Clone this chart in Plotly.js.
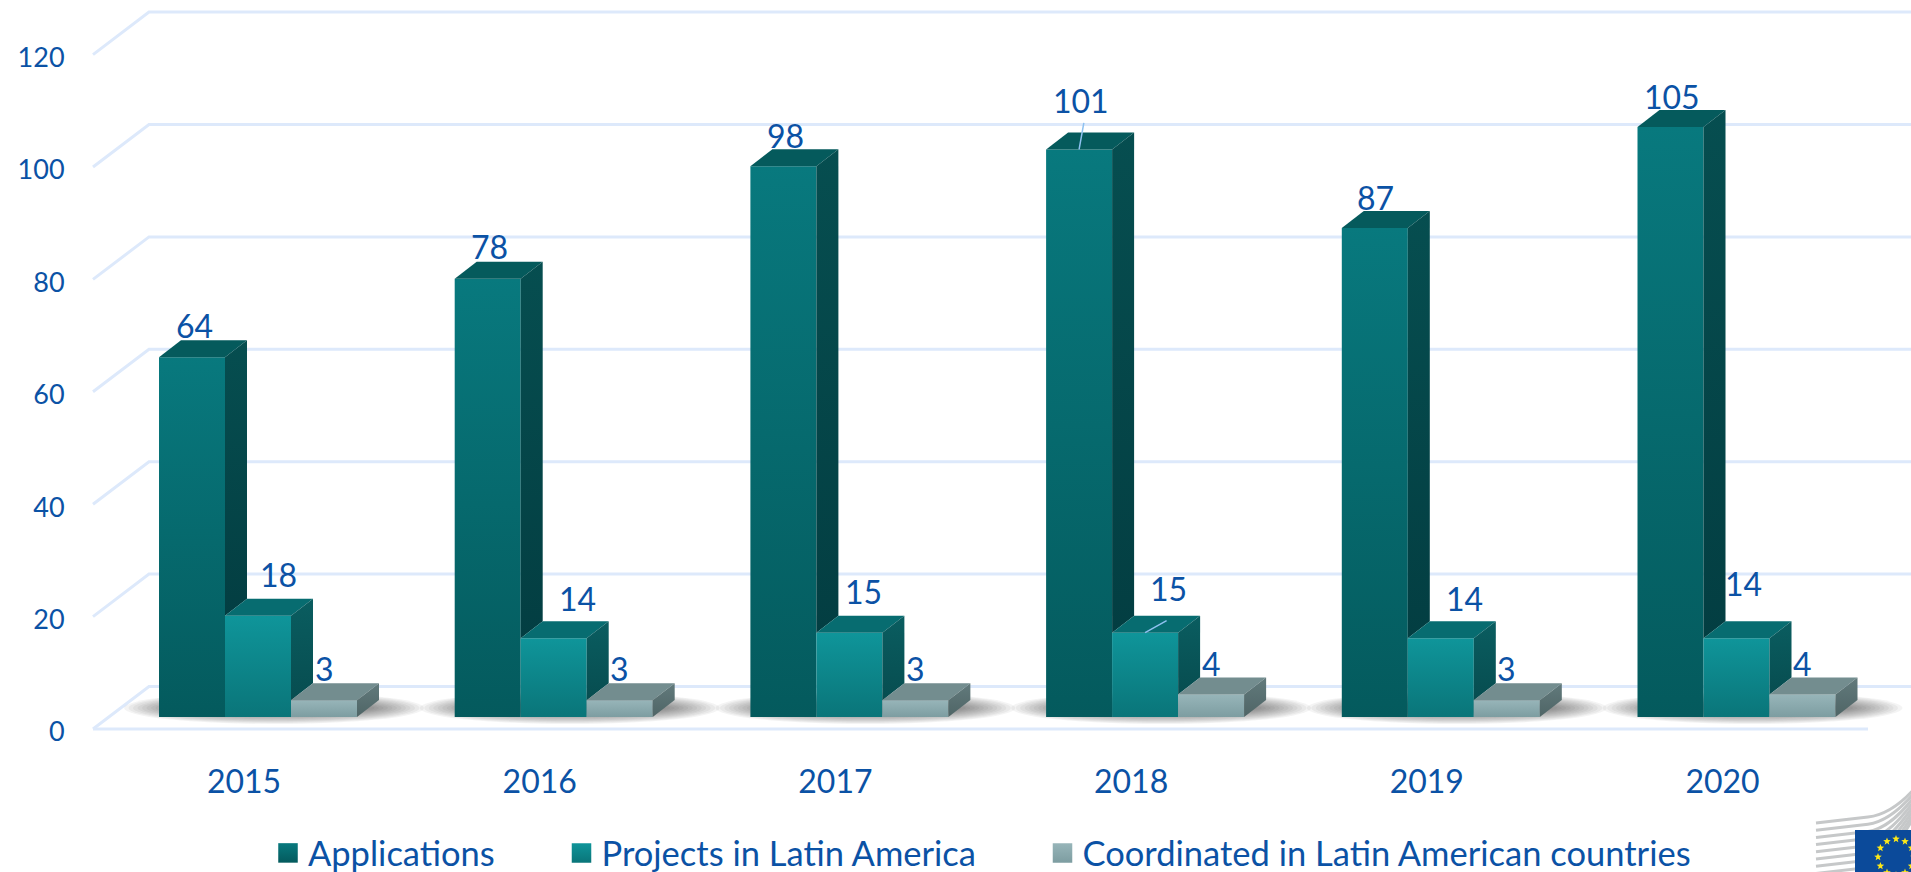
<!DOCTYPE html>
<html>
<head>
<meta charset="utf-8">
<script src="https://cdn.plot.ly/plotly-3.0.1.min.js"></script>
<style>html,body{margin:0;padding:0;background:#fff;overflow:hidden}</style>
</head>
<body>
<div id="chart" style="width:1911px;height:872px"></div>
<script>
// ---- data ----
const years = ['2015','2016','2017','2018','2019','2020'];
const seriesNames = ['Applications','Projects in Latin America','Coordinated in Latin American countries'];
const applications = [64,78,98,101,87,105];
const projects = [18,14,15,15,14,14];
const coordinated = [3,3,3,4,3,4];
const yTicks = [0,20,40,60,80,100,120];

// ---- styles ----
const inkBlue = '#0b52a5', gridBlue = '#dde9fb', leaderBlue = '#8fc1f0';
const frontTop = ['#08797e','#0f959a','#97b5b9'];
const frontBottom = ['#045a5d','#0a7579','#7d9da1'];
const topFace = ['#055a5c','#076c70','#738d8f'];
const sideTop = ['#064e50','#0a5d60','#627a7c'];
const sideBottom = ['#033e42','#074d50','#4f6566'];
const labelFont = {family:'Lato, sans-serif', size:32, color:inkBlue};

// ---- geometry (pixels on the page, converted to axis units) ----
const W = 1911, H = 872, L = 72, axisPx = 745;
const pxX = 295.7, pxY = 5.62;         // pixels per category, pixels per value
const x0px = 258, y0px = 729;          // where category 0 / value 0 fall on the page
const ux = p => p / pxX, uy = p => p / pxY;
const xOfPx = p => (p - x0px) / pxX, yOfPx = p => (y0px - p) / pxY;
const barW = ux(66), depthX = ux(22), depthY = uy(17);
const floorY = uy(12);                 // bars stand this far behind the front axis plane
const backX = ux(56), backY = uy(42.5);
const paperX = p => (p - L) / (W - L), paperY = p => (H - p) / H;

const series = [applications, projects, coordinated];
const traces = [], shapes = [], annotations = [];

// back grid lines + walls
yTicks.forEach(v => {
  shapes.push({type:'path', layer:'below', xref:'x', yref:'y',
    path:`M${xOfPx(93)},${v} L${xOfPx(93)+backX},${v+backY} L${xOfPx(W+5)},${v+backY}`,
    line:{color:gridBlue, width:3}, fillcolor:'rgba(0,0,0,0)'});
});
shapes.push({type:'line', layer:'below', xref:'x', yref:'y',
  x0:xOfPx(93), x1:xOfPx(1868), y0:0, y1:0, line:{color:gridBlue, width:3}});

// floor shadows: soft nested ellipses under each group
years.forEach((_, i) => {
  for (let s = 0; s < 14; s++) {
    const hw = ux(150 - s * 4.5), hh = uy(16 - s * 0.9);
    shapes.push({type:'circle', layer:'below', xref:'x', yref:'y',
      x0:i + ux(16) - hw, x1:i + ux(16) + hw,
      y0:floorY + uy(9) - hh, y1:floorY + uy(9) + hh,
      fillcolor:'rgba(40,40,40,0.05)', line:{width:0}});
  }
});

// front faces: real bars standing on the floor
series.forEach((vals, k) => {
  traces.push({type:'bar', name:seriesNames[k], showlegend:false,
    x:years.map((_, i) => i + (k - 1) * barW), y:vals, base:floorY, width:barW,
    marker:{color:frontBottom[k], line:{width:0}}, hoverinfo:'skip'});
});

// top and side faces, computed from the same values
series.forEach((vals, k) => {
  vals.forEach((v, i) => {
    const xl = i + (k - 1) * barW - barW / 2, xr = xl + barW;
    const top = floorY + v;
    const next = k < 2 ? floorY + series[k + 1][i] : floorY;
    traces.push({type:'scatter', mode:'lines', showlegend:false, hoverinfo:'skip',
      x:[xl, xl + depthX, xr + depthX, xr, xl],
      y:[top, top + depthY, top + depthY, top, top],
      fill:'toself', fillcolor:topFace[k], line:{width:0}});
    traces.push({type:'scatter', mode:'lines', showlegend:false, hoverinfo:'skip',
      x:[xr, xr + depthX, xr + depthX, xr, xr],
      y:[top, top + depthY, next + depthY, next, top],
      fill:'toself', line:{width:0},
      fillgradient:{type:'vertical', colorscale:[[0, sideBottom[k]], [1, sideTop[k]]]}});
  });
});

// legend entries: one legend per entry so each can sit at its own place
const legendIds = ['legend','legend2','legend3'];
series.forEach((_, k) => {
  traces.push({type:'scatter', mode:'markers', name:seriesNames[k], x:[null], y:[null], legend:legendIds[k],
    marker:{symbol:'square', size:16, color:frontTop[k],
      gradient:{type:'vertical', color:frontBottom[k]}}});
});
const legendLeftPx = [268, 561.5, 1042.5];
const legendLayoutY = 825, legendFinalY = 853;   // laid out higher so it does not push the plot, then moved down
const legendOpts = k => ({x:paperX(legendLeftPx[k]), xanchor:'left', y:paperY(legendLayoutY), yanchor:'middle',
  font:{family:'Lato, sans-serif', size:34.5, color:inkBlue}, bgcolor:'rgba(0,0,0,0)',
  itemclick:false, itemdoubleclick:false});

// value labels: pixel offsets from the top of each bar to the label centre
const labelDX = [[2,2,2,2,1,1],[20,24,14,23,24,7],[0,0,0,0,0,0]];
const labelDY = [[32,32,31,49,31,30],[41,40,41,44,40,55],[32,32,32,31,32,31]];
series.forEach((vals, k) => {
  vals.forEach((v, i) => {
    annotations.push({x:i + (k - 1) * barW, y:floorY + v, xref:'x', yref:'y',
      text:String(v), showarrow:false, font:labelFont, xanchor:'center', yanchor:'middle',
      xshift:labelDX[k][i], yshift:labelDY[k][i]});
  });
});
// leader lines for the two displaced labels
[[0, 3, 5, -28], [1, 3, 23, -13]].forEach(([k, i, ax, ay]) => {
  annotations.push({x:i + (k - 1) * barW, y:floorY + series[k][i], xref:'x', yref:'y',
    text:'', showarrow:true, arrowhead:0, arrowwidth:1.5, arrowcolor:leaderBlue,
    ax:ax, ay:ay, axref:'pixel', ayref:'pixel', standoff:0, startstandoff:0});
});

// Commission logo in the corner: stripes, blue flag, ring of stars
const flagL = 1855, flagT = 830, starCx = 1896, starCy = 857, starR = 18;
for (let n = 0; n < 8; n++) {
  const d = n * 7.2;
  const px = (a, b) => `${paperX(a)},${paperY(b)}`;
  shapes.push({type:'path', xref:'paper', yref:'paper',
    path:`M${px(1816, 823 + d)} L${px(1868, 817 + d)} C${px(1885, 815 + d)},${px(1900, 805 + d * 0.7)},${px(1915, 788 + d * 0.55)}`,
    line:{color:'#c6c8c9', width:3}, fillcolor:'rgba(0,0,0,0)'});
}
shapes.push({type:'rect', xref:'paper', yref:'paper',
  x0:paperX(flagL), x1:paperX(W), y0:paperY(H), y1:paperY(flagT),
  fillcolor:'#0b4a9a', line:{width:0}});
for (let s = 0; s < 12; s++) {
  const a = s * Math.PI / 6, cx = starCx + starR * Math.sin(a), cy = starCy - starR * Math.cos(a);
  let d = '';
  for (let p = 0; p < 10; p++) {
    const r = p % 2 ? 1.7 : 4, b = p * Math.PI / 5;
    d += `${p ? 'L' : 'M'}${paperX(cx + r * Math.sin(b))},${paperY(cy - r * Math.cos(b))} `;
  }
  shapes.push({type:'path', xref:'paper', yref:'paper', path:d + 'Z', fillcolor:'#fde818', line:{width:0}});
}

const layout = {
  width:W, height:H, margin:{l:L, r:0, t:0, b:0, pad:0},
  paper_bgcolor:'#fff', plot_bgcolor:'rgba(0,0,0,0)',
  barmode:'overlay', font:{family:'Lato, sans-serif', color:inkBlue},
  xaxis:{range:[xOfPx(L), xOfPx(W)], tickmode:'array', anchor:'free', position:paperY(axisPx),
    tickvals:years.map((_, i) => i + ux(-14)), ticktext:years,
    tickfont:{family:'Lato, sans-serif', size:32, color:inkBlue},
    showgrid:false, zeroline:false, showline:false, ticks:'outside', ticklen:9, tickcolor:'rgba(0,0,0,0)'},
  yaxis:{range:[yOfPx(H), yOfPx(0)], tickmode:'array', tickvals:yTicks,
    tickfont:{family:'Lato, sans-serif', size:27, color:inkBlue}, ticklabelshift:3,
    showgrid:false, zeroline:false, showline:false, ticks:'outside', ticklen:1, tickcolor:'rgba(0,0,0,0)'},
  legend:legendOpts(0), legend2:legendOpts(1), legend3:legendOpts(2),
  shapes:shapes, annotations:annotations, showlegend:true
};

const gd = document.getElementById('chart');
function paintGradients() {
  const svg = gd.querySelector('svg.main-svg');
  if (!svg) return;
  let defs = svg.querySelector('defs');
  series.forEach((_, k) => {
    const id = 'frontGrad' + k;
    if (!svg.querySelector('#' + id)) {
      const g = document.createElementNS('http://www.w3.org/2000/svg', 'linearGradient');
      g.id = id;
      g.setAttribute('x1', '0'); g.setAttribute('y1', '0'); g.setAttribute('x2', '0'); g.setAttribute('y2', '1');
      [[0, frontTop[k]], [1, frontBottom[k]]].forEach(([o, c]) => {
        const st = document.createElementNS('http://www.w3.org/2000/svg', 'stop');
        st.setAttribute('offset', o); st.setAttribute('stop-color', c);
        g.appendChild(st);
      });
      defs.appendChild(g);
    }
  });
  gd.querySelectorAll('.barlayer .trace.bars').forEach((t, k) => {
    t.querySelectorAll('.point path').forEach(p => { p.style.fill = `url(#frontGrad${k})`; });
  });
  // the reference's legend keys are slightly larger than Plotly's 16px cap
  gd.querySelectorAll('.legendpoints path').forEach(p => {
    const tr = p.getAttribute('transform') || '';
    if (!/scale/.test(tr)) p.setAttribute('transform', tr + ' scale(1.22)');
  });
  // move the legends to their final row
  gd.querySelectorAll('.legend, .legend2, .legend3').forEach(l => {
    const m = /translate\(\s*([-\d.]+)[ ,]+([-\d.]+)\s*\)/.exec(l.getAttribute('transform') || '');
    if (!m) return;
    if (!l.dataset.finalY) l.dataset.finalY = parseFloat(m[2]) + (legendFinalY - legendLayoutY);
    l.setAttribute('transform', `translate(${m[1]},${l.dataset.finalY})`);
  });
}
Plotly.newPlot(gd, traces, layout, {displayModeBar:false}).then(() => {
  paintGradients();
  gd.on('plotly_afterplot', paintGradients);
});
</script>
</body>
</html>
